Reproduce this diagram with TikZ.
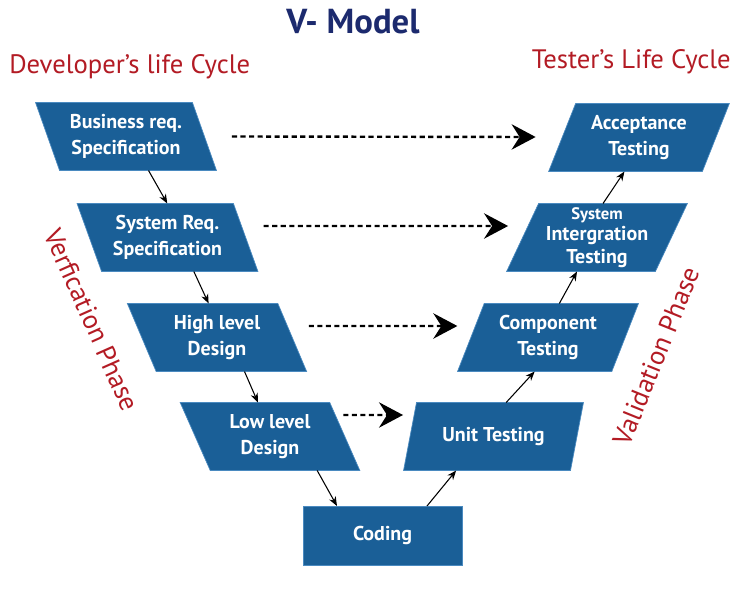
\documentclass[tikz,border=0pt]{standalone}
\usepackage{fontspec}
\setmainfont{PT Sans}
\usetikzlibrary{shapes.geometric,arrows.meta,calc}
\definecolor{boxblue}{HTML}{1A5F97}
\definecolor{boxedge}{HTML}{4A8AC0}
\definecolor{redtxt}{HTML}{B31B24}
\definecolor{navy}{HTML}{1C2A6E}
\begin{document}
\begin{tikzpicture}[x=0.75pt,y=-0.75pt,
  lbox/.style={trapezium, trapezium stretches=true, trapezium left angle=115, trapezium right angle=65,
    minimum width=135.75pt, minimum height=51pt, fill=boxblue, draw=boxedge, line width=0.5pt,
    inner sep=0pt, outer sep=0pt, text=white, font=\bfseries\fontsize{15}{19}\selectfont, align=center},
  rbox/.style={lbox, trapezium left angle=65, trapezium right angle=115},
  codebox/.style={rectangle, minimum width=119.25pt, minimum height=44.25pt, fill=boxblue, draw=boxedge,
    line width=0.5pt, inner sep=0pt, outer sep=0pt, text=white, font=\bfseries\fontsize{15}{19}\selectfont},
  flow/.style={-{Stealth[length=7pt,width=5.5pt]}, line width=0.8pt, black},
  link/.style={-{Stealth[length=18pt,width=19pt,inset=6pt]}, line width=1.8pt, black, dash pattern=on 3.8pt off 2.6pt},
  redlabel/.style={text=redtxt, font=\fontsize{20}{24}\selectfont, inner sep=0pt},
]
\useasboundingbox (0,0) rectangle (736,589);
\fill[white] (0,0) rectangle (736,589);

\node[text=navy, font=\bfseries\fontsize{26}{30}\selectfont, inner sep=0pt] (title) at (353,22) {V- Model};
\node[redlabel, anchor=west] (dev) at (9,67) {Developer’s life Cycle};
\node[redlabel, anchor=east] (tst) at (731,62) {Tester’s Life Cycle};
\node[redlabel, rotate=-66] (ver) at (92,320) {Verfication Phase};
\node[redlabel, rotate=68] (val) at (656,356) {Validation Phase};

\node[lbox] (b1) at (126,136.5) {Business req.\\Specification};
\node[lbox] (b2) at (167.5,237.5) {System Req.\\Specification};
\node[lbox] (b3) at (217,337.5) {High level\\Design};
\node[lbox] (b4) at (270,436.5) {Low level\\Design};
\node[codebox] (cod) at (382.5,535.5) {Coding};
\node[rbox] (t4) at (493.5,436.5) {Unit Testing};
\node[rbox] (t3) at (548,337.5) {Component\\Testing};
\node[rbox] (t2) at (597,237.5) {{\fontsize{12.5}{13}\selectfont System}\\[-3pt]Intergration\\[-2pt]Testing};
\node[rbox] (t1) at (639,137.5) {Acceptance\\Testing};

% flow arrows
\draw[flow] ($(b1.bottom left corner)!0.567!(b1.bottom right corner)$) -- ($(b2.top left corner)!0.577!(b2.top right corner)$);
\draw[flow] ($(b2.bottom left corner)!0.59!(b2.bottom right corner)$) -- ($(b3.top left corner)!0.54!(b3.top right corner)$);
\draw[flow] ($(b3.bottom left corner)!0.587!(b3.bottom right corner)$) -- ($(b4.top left corner)!0.52!(b4.top right corner)$);
\draw[flow] ($(b4.bottom left corner)!0.715!(b4.bottom right corner)$) -- ([xshift=25.5pt]cod.north west);
\draw[flow] ([xshift=93pt]cod.north west) -- ($(t4.bottom left corner)!0.315!(t4.bottom right corner)$);
\draw[flow] ($(t4.top left corner)!0.537!(t4.top right corner)$) -- ($(t3.bottom left corner)!0.5!(t3.bottom right corner)$);
\draw[flow] ($(t3.top left corner)!0.487!(t3.top right corner)$) -- ($(t2.bottom left corner)!0.473!(t2.bottom right corner)$);
\draw[flow] ($(t2.top left corner)!0.433!(t2.top right corner)$) -- ($(t1.bottom left corner)!0.493!(t1.bottom right corner)$);

% verification-validation links
\draw[link] ([shift={(27.5,0)}]b1.east) -- ([shift={(-26.5,-0.5)}]t1.west);
\draw[link] ([shift={(18,-11.5)}]b2.east) -- ([shift={(-14.5,-11.5)}]t2.west);
\draw[link] ([shift={(16.5,-11.5)}]b3.east) -- ([shift={(-13.5,-11.5)}]t3.west);
\draw[link] ([shift={(-1.5,-21.5)}]b4.east) -- ([shift={(-7,-21.5)}]t4.west);
\end{tikzpicture}
\end{document}
